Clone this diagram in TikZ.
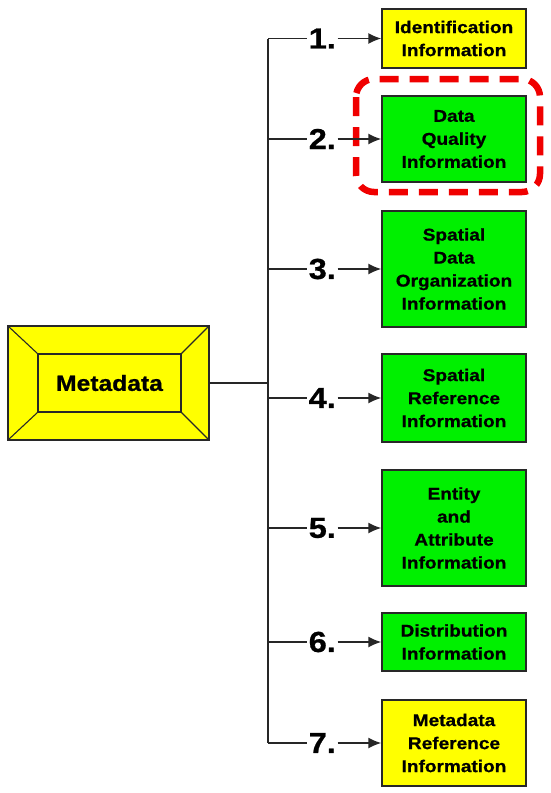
\documentclass[tikz,border=0pt]{standalone}
\usepackage{fontspec}
\newfontfamily\labfont{Liberation Sans}[FakeStretch=1.12,FakeBold=0.8]
\usetikzlibrary{arrows.meta}
\definecolor{boxyellow}{RGB}{255,255,0}
\definecolor{boxgreen}{RGB}{0,240,0}
\definecolor{edgegray}{RGB}{40,40,40}
\definecolor{markred}{RGB}{240,0,0}
\begin{document}
\begin{tikzpicture}[x=1pt,y=-1pt,
  infobox/.style={draw=edgegray, line width=1.4pt, minimum width=144pt,
    inner sep=0pt, align=center,
    font=\labfont\bfseries\fontsize{17}{23}\selectfont},
  ybox/.style={infobox, fill=boxyellow},
  gbox/.style={infobox, fill=boxgreen},
  numlabel/.style={inner sep=1.5pt, font=\labfont\bfseries\fontsize{29}{30}\selectfont},
  wire/.style={draw=black!85, line width=1.5pt},
  feed/.style={wire, -{Latex[length=13pt,width=11pt]}},
  highlight/.style={draw=markred, line width=6.5pt, rounded corners=18pt,
    dash pattern=on 19pt off 11pt}
]
\useasboundingbox (0,0) rectangle (550,793);
\fill[white] (0,0) rectangle (550,793);

% main bevelled box
\fill[boxyellow] (8,326) rectangle (209,440);
\draw[edgegray, line width=1.3pt] (8,326) rectangle (209,440);
\draw[edgegray, line width=1.3pt] (38,354) rectangle (181,412);
\draw[edgegray, line width=1.1pt] (8,326) -- (38,354) (209,326) -- (181,354)
  (8,440) -- (38,412) (209,440) -- (181,412);
\node[inner sep=0pt, font=\labfont\bfseries\fontsize{22}{24}\selectfont]
  (meta) at (109.5,383) {Metadata};
\coordinate (metaE) at (209,383);

% category boxes
\node[ybox, minimum height=59pt]  (b1) at (454,38.5) {Identification\\Information};
\node[gbox, minimum height=86pt]  (b2) at (454,139)  {Data\\Quality\\Information};
\node[gbox, minimum height=116pt] (b3) at (454,269)  {Spatial\\Data\\Organization\\Information};
\node[gbox, minimum height=88pt]  (b4) at (454,398)  {Spatial\\Reference\\Information};
\node[gbox, minimum height=116pt] (b5) at (454,528)  {Entity\\and\\Attribute\\Information};
\node[gbox, minimum height=58pt]  (b6) at (454,642)  {Distribution\\Information};
\node[ybox, minimum height=86pt]  (b7) at (454,743)  {Metadata\\Reference\\Information};

% highlight around data quality
\draw[highlight] (356,79) rectangle (540,192);

% trunk and branches
\coordinate (top) at (268,38.5);
\coordinate (bot) at (268,743);
\coordinate (join) at (268,383);
\draw[wire] (top) -- (bot);
\draw[wire] (metaE) -- (join);

\foreach \i in {1,...,7}{
  \path (b\i.west) ++(-59,0) node[numlabel, anchor=center] (n\i) {\i.};
  \coordinate (t\i) at (268,0 |- b\i.west);
  \draw[wire] (t\i) -- (n\i.west);
  \draw[feed] (n\i.east) -- (b\i.west);
}
\end{tikzpicture}
\end{document}
